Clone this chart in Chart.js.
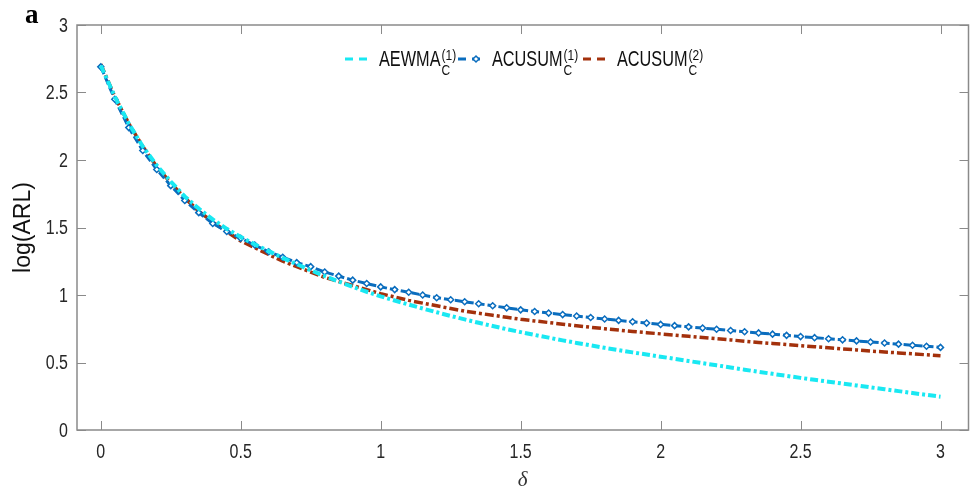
<!DOCTYPE html>
<html>
<head>
<meta charset="utf-8">
<script src="https://cdn.jsdelivr.net/npm/chart.js@4"></script>
<style>
  html, body { margin: 0; padding: 0; background: #fff; }
  #wrap { width: 974px; height: 493px; position: relative; }
</style>
</head>
<body>
<div id="wrap"><canvas id="arlChart" width="974" height="493"></canvas></div>
<script>
// ── DATA ──
const deltas = [0, 0.05, 0.1, 0.15, 0.2, 0.25, 0.3, 0.35, 0.4, 0.45, 0.5, 0.55, 0.6, 0.65, 0.7, 0.75, 0.8, 0.85, 0.9, 0.95,
  1, 1.05, 1.1, 1.15, 1.2, 1.25, 1.3, 1.35, 1.4, 1.45, 1.5, 1.55, 1.6, 1.65, 1.7, 1.75, 1.8, 1.85, 1.9, 1.95,
  2, 2.05, 2.1, 2.15, 2.2, 2.25, 2.3, 2.35, 2.4, 2.45, 2.5, 2.55, 2.6, 2.65, 2.7, 2.75, 2.8, 2.85, 2.9, 2.95, 3];

const aewma1 = [2.70, 2.47, 2.27, 2.10, 1.96, 1.84, 1.73, 1.64, 1.56, 1.49, 1.43, 1.375, 1.325, 1.275, 1.228, 1.183, 1.14, 1.10, 1.06, 1.024,
  0.99, 0.959, 0.929, 0.900, 0.872, 0.845, 0.819, 0.794, 0.770, 0.747, 0.725, 0.704, 0.684, 0.664, 0.645, 0.627, 0.609, 0.592, 0.575, 0.559,
  0.543, 0.527, 0.511, 0.495, 0.479, 0.463, 0.447, 0.431, 0.416, 0.401, 0.386, 0.372, 0.358, 0.344, 0.330, 0.316, 0.302, 0.288, 0.274, 0.260, 0.247];

const acusum1 = [2.69, 2.45, 2.24, 2.07, 1.93, 1.81, 1.70, 1.61, 1.53, 1.47, 1.42, 1.37, 1.32, 1.28, 1.24, 1.21, 1.17, 1.14, 1.11, 1.085,
  1.06, 1.04, 1.02, 1.00, 0.98, 0.965, 0.95, 0.935, 0.92, 0.905, 0.89, 0.878, 0.866, 0.855, 0.844, 0.833, 0.822, 0.812, 0.802, 0.792,
  0.782, 0.773, 0.764, 0.755, 0.746, 0.737, 0.728, 0.719, 0.710, 0.701, 0.692, 0.684, 0.676, 0.668, 0.660, 0.652, 0.644, 0.636, 0.628, 0.620, 0.612];

const acusum2 = [2.71, 2.47, 2.27, 2.10, 1.95, 1.83, 1.72, 1.62, 1.54, 1.47, 1.40, 1.35, 1.30, 1.25, 1.21, 1.17, 1.13, 1.10, 1.07, 1.04,
  1.01, 0.985, 0.96, 0.94, 0.92, 0.90, 0.88, 0.865, 0.85, 0.835, 0.82, 0.808, 0.796, 0.784, 0.772, 0.761, 0.750, 0.740, 0.730, 0.721,
  0.712, 0.703, 0.694, 0.685, 0.676, 0.667, 0.658, 0.649, 0.641, 0.633, 0.625, 0.617, 0.609, 0.601, 0.593, 0.585, 0.578, 0.571, 0.564, 0.557, 0.55];

const xTicks = [0, 0.5, 1, 1.5, 2, 2.5, 3];
const yTicks = [0, 0.5, 1, 1.5, 2, 2.5, 3];

const seriesNames = ['AEWMA', 'ACUSUM', 'ACUSUM'];
const seriesSub = ['C', 'C', 'C'];
const seriesSup = ['(1)', '(1)', '(2)'];

const SANS = '"Liberation Sans", Arial, sans-serif';
const AXIS_GREY = '#8a8a8a';

const toPts = ys => deltas.map((d, i) => ({ x: d, y: ys[i] }));

// squeezed Helvetica-like text, like the MATLAB export
function narrowText(ctx, text, x, y, size, sx, align) {
  ctx.save();
  ctx.font = size + 'px ' + SANS;
  ctx.translate(x, y);
  ctx.scale(sx, 1);
  ctx.textAlign = align || 'left';
  ctx.fillText(text, 0, 0);
  const w = ctx.measureText(text).width * sx;
  ctx.restore();
  return w;
}

// box round the plot with inward ticks on all four sides, tick labels, legend
const boxPlugin = {
  id: 'box',
  afterDraw(chart) {
    const { ctx, chartArea: a, scales: { x, y } } = chart;
    ctx.save();
    ctx.strokeStyle = AXIS_GREY;
    ctx.lineWidth = 1.5;
    ctx.strokeRect(a.left, a.top, a.right - a.left, a.bottom - a.top);
    ctx.lineWidth = 1;
    ctx.beginPath();
    xTicks.forEach(v => {
      const px = Math.round(x.getPixelForValue(v)) + 0.5;
      ctx.moveTo(px, a.bottom); ctx.lineTo(px, a.bottom - 9);
      ctx.moveTo(px, a.top); ctx.lineTo(px, a.top + 9);
    });
    yTicks.forEach(v => {
      const py = Math.round(y.getPixelForValue(v)) + 0.5;
      ctx.moveTo(a.left, py); ctx.lineTo(a.left + 9, py);
      ctx.moveTo(a.right, py); ctx.lineTo(a.right - 9, py);
    });
    ctx.stroke();

    // tick labels
    ctx.fillStyle = '#262626';
    ctx.textBaseline = 'middle';
    xTicks.forEach(v => narrowText(ctx, String(v), x.getPixelForValue(v), a.bottom + 22, 20, 0.8, 'center'));
    yTicks.forEach(v => narrowText(ctx, String(v), a.left - 9, y.getPixelForValue(v) + 1, 20, 0.8, 'right'));

    // panel letter
    ctx.fillStyle = '#000';
    ctx.textBaseline = 'alphabetic';
    ctx.font = 'bold 27px "Liberation Serif", "Times New Roman", serif';
    ctx.fillText('a', 25, 23);

    // legend with sub/superscripts
    const starts = [345, 458, 583];
    const ly = 59;
    chart.data.datasets.forEach((ds, i) => {
      let lx = starts[i];
      ctx.save();
      ctx.strokeStyle = ds.borderColor;
      ctx.lineWidth = 3;
      ctx.setLineDash([8, 6]);
      ctx.beginPath();
      ctx.moveTo(lx, ly); ctx.lineTo(lx + 24, ly);
      ctx.stroke();
      if (ds.pointRadius > 0) {
        ctx.setLineDash([]);
        ctx.fillStyle = '#fff';
        ctx.lineWidth = 1.5;
        ctx.beginPath();
        const mx = lx + 18;
        ctx.moveTo(mx - 3, ly); ctx.lineTo(mx, ly - 3); ctx.lineTo(mx + 3, ly); ctx.lineTo(mx, ly + 3); ctx.closePath();
        ctx.fill(); ctx.stroke();
      }
      ctx.restore();
      lx += 34;
      ctx.fillStyle = '#111';
      ctx.textBaseline = 'alphabetic';
      lx += narrowText(ctx, seriesNames[i], lx, ly + 7, 22, 0.74) + 1;
      narrowText(ctx, seriesSub[i], lx, ly + 16, 15, 0.8);
      narrowText(ctx, seriesSup[i], lx, ly + 1, 15, 0.8);
    });
    ctx.restore();
  }
};

const ctx = document.getElementById('arlChart').getContext('2d');
new Chart(ctx, {
  type: 'line',
  data: {
    datasets: [
      { label: 'AEWMA', data: toPts(aewma1), borderColor: '#19E8F2', borderWidth: 4,
        borderDash: [8, 3, 3, 3], pointRadius: 0, tension: 0 },
      { label: 'ACUSUM1', data: toPts(acusum1), borderColor: '#0A6DBE', borderWidth: 3,
        borderDash: [8, 3], pointRadius: 3, pointStyle: 'rectRot', pointBackgroundColor: '#fff',
        pointBorderColor: '#0A6DBE', pointBorderWidth: 1.5, tension: 0 },
      { label: 'ACUSUM2', data: toPts(acusum2), borderColor: '#A3310C', borderWidth: 3.5,
        borderDash: [9, 3, 3, 3], pointRadius: 0, tension: 0 }
    ]
  },
  options: {
    responsive: false,
    animation: false,
    layout: { padding: { top: 25, right: 2, left: 0, bottom: 0 } },
    plugins: { legend: { display: false }, tooltip: { enabled: false } },
    scales: {
      x: {
        type: 'linear', min: -0.085, max: 3.1,
        afterFit: s => { s.height = 63; },
        afterBuildTicks: s => { s.ticks = xTicks.map(v => ({ value: v })); },
        border: { display: false },
        grid: { display: false, drawTicks: false },
        ticks: { display: false },
        title: { display: true, text: 'δ', color: '#333', padding: { top: 0, bottom: 0 },
          font: { size: 21, style: 'italic', family: '"Liberation Serif", serif' } }
      },
      y: {
        type: 'linear', min: 0, max: 3,
        afterFit: s => { s.width = 77; },
        afterBuildTicks: s => { s.ticks = yTicks.map(v => ({ value: v })); },
        border: { display: false },
        grid: { display: false, drawTicks: false },
        ticks: { display: false },
        title: { display: true, text: 'log(ARL)', color: '#111', padding: { top: 10, bottom: 0 },
          font: { size: 23, family: SANS } }
      }
    }
  },
  plugins: [boxPlugin]
});
</script>
</body>
</html>
